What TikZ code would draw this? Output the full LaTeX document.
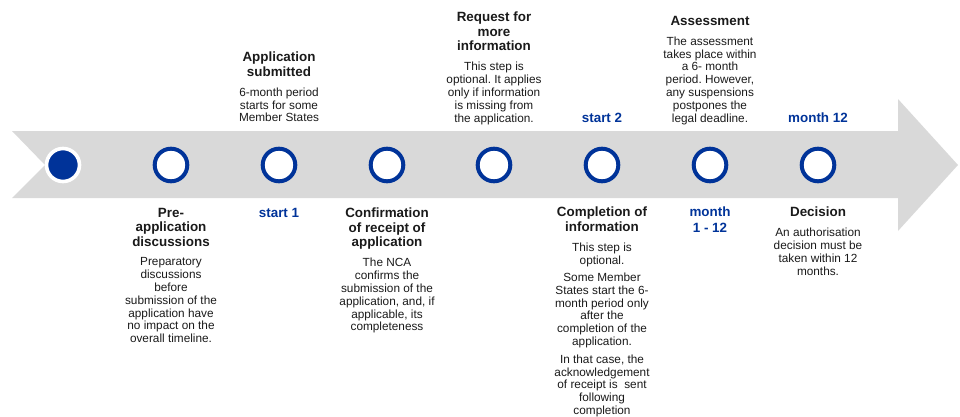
\documentclass[tikz,border=0pt]{standalone}
\usepackage{fontspec}
\setmainfont{Liberation Sans}
\usetikzlibrary{positioning}
\definecolor{eublue}{HTML}{003399}
\definecolor{bandgray}{HTML}{D9D9D9}
\definecolor{textgray}{HTML}{1A1A1A}
\def\tly{165}
\def\gap{11pt}
\frenchspacing

\begin{document}
\begin{tikzpicture}[x=1pt,y=-1pt,
  ring/.style={circle,draw=eublue,line width=4pt,fill=white,minimum size=32.6pt,inner sep=0pt},
  firstdot/.style={circle,draw=white,line width=3.6pt,fill=eublue,minimum size=33pt,inner sep=0pt},
  steptitle/.style={font=\fontsize{13.4}{14.5}\selectfont\bfseries,align=center,inner sep=0pt,text=textgray,text depth=0pt},
  stepbody/.style={font=\fontsize{11.8}{12.8}\selectfont,align=center,inner sep=0pt,text=textgray},
  milestone/.style={font=\fontsize{13.4}{15.5}\selectfont\bfseries,align=center,inner sep=0pt,text=eublue}]

\useasboundingbox (0,0) rectangle (960,416);

% the grey arrow
\fill[bandgray] (12,131) -- (898,131) -- (898,99) -- (958,\tly) -- (898,231)
  -- (898,198) -- (12,198) -- (45,\tly) -- cycle;

% steps
\node[firstdot] (c1) at (63,\tly) {};
\node[ring] (c2) at (171,\tly) {};
\node[ring] (c3) at (279,\tly) {};
\node[ring] (c4) at (387,\tly) {};
\node[ring] (c5) at (494,\tly) {};
\node[ring] (c6) at (602,\tly) {};
\node[ring] (c7) at (710,\tly) {};
\node[ring] (c8) at (818,\tly) {};

% above the line
\node[steptitle,anchor=north] (t3) at (279,52) {Application\\submitted};
\node[stepbody,below=\gap of t3] (b3) {6-month period\\starts for some\\Member States};

\node[steptitle,anchor=north] (t5) at (494,12) {Request for\\more\\information};
\node[stepbody,below=\gap of t5] (b5) {This step is\\optional. It applies\\only if information\\is missing from\\the application.};

\node[milestone,anchor=north] (m6) at (602,113) {start 2};

\node[steptitle,anchor=north] (t7) at (710,16) {Assessment};
\node[stepbody,below=\gap of t7] (b7) {The assessment\\takes place within\\a 6- month\\period. However,\\any suspensions\\postpones the\\legal deadline.};

\node[milestone,anchor=north] (m8) at (818,113) {month 12};

% below the line
\node[steptitle,anchor=north] (t2) at (171,208) {Pre-\\application\\discussions};
\node[stepbody,below=\gap of t2] (b2) {Preparatory\\discussions\\before\\submission of the\\application have\\no impact on the\\overall timeline.};

\node[milestone,anchor=north] (m3) at (279,208) {start 1};

\node[steptitle,anchor=north] (t4) at (387,208) {Confirmation\\of receipt of\\application};
\node[stepbody,below=\gap of t4] (b4) {The NCA\\confirms the\\submission of the\\application, and, if\\applicable, its\\completeness};

\node[steptitle,anchor=north] (t6) at (602,207) {Completion of\\information};
\node[stepbody,below=\gap of t6] (b6) {This step is\\optional.\\[4.5pt]Some Member\\States start the 6-\\month period only\\after the\\completion of the\\application.\\[5pt]In that case, the\\acknowledgement\\of receipt is\ \ sent\\following\\completion};

\node[milestone,anchor=north] (m7) at (710,207) {month\\1 - 12};

\node[steptitle,anchor=north] (t8) at (818,207) {Decision};
\node[stepbody,below=\gap of t8] (b8) {An authorisation\\decision must be\\taken within 12\\months.};

\end{tikzpicture}
\end{document}
